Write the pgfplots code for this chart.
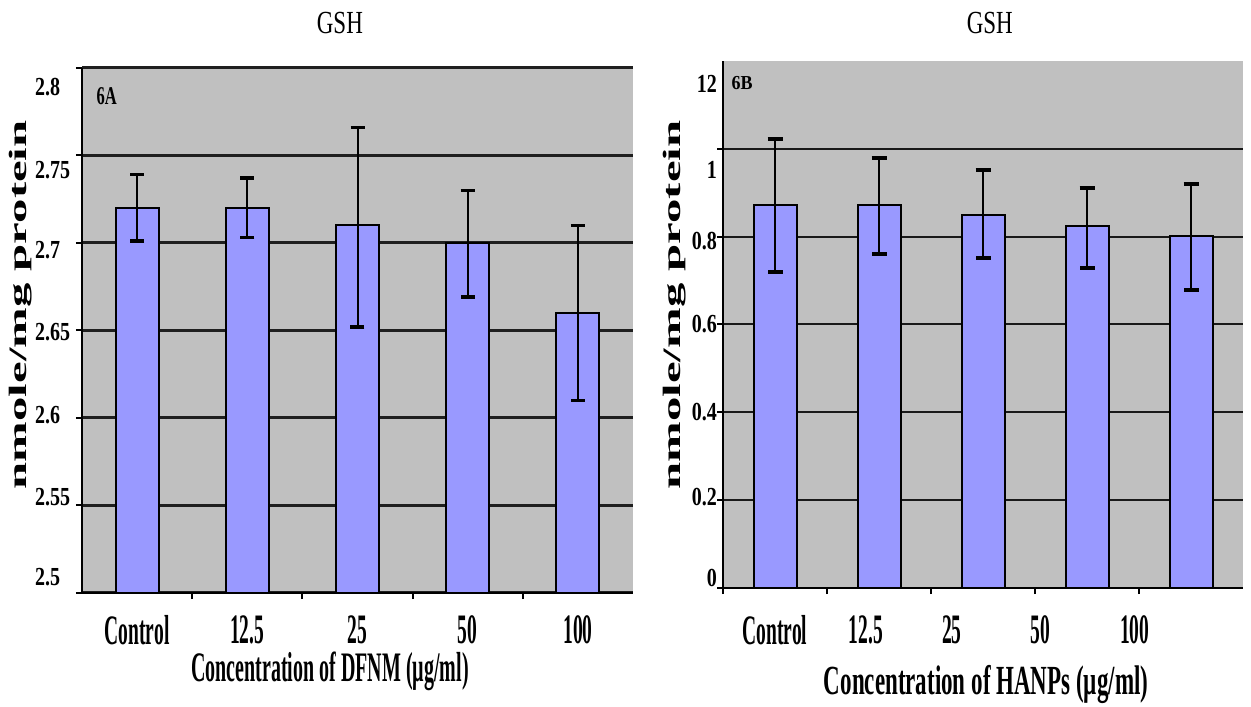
\documentclass[border=0pt]{standalone}
\usepackage{fontspec}
\setmainfont{Liberation Serif}
\usepackage{graphicx}
\usepackage{pgfplots}
\pgfplotsset{compat=1.18}
\definecolor{bggray}{HTML}{C0C0C0}
\definecolor{barblue}{HTML}{9999FF}
\newcommand{\xt}[1]{\scalebox{1}[2.15]{\fontsize{19.5}{20}\selectfont\bfseries #1}}
\newcommand{\yt}[1]{\scalebox{1}[1.3]{\fontsize{20}{22}\selectfont\bfseries #1}}
\newcommand{\ttl}{\scalebox{1}[1.4]{\fontsize{23}{24}\selectfont GSH}}
\newcommand{\ylab}{\scalebox{1.95}[1]{\fontsize{25}{27}\selectfont\bfseries nmole/mg protein}}
\pgfplotsset{
  common/.style={
    scale only axis,
    axis background/.style={fill=bggray},
    axis x line*=bottom, axis y line*=left,
    axis line style={line width=2pt, black, -},
    major tick length=0pt, minor tick length=6pt, tick align=outside,
    minor tick style={line width=2pt, black},
    yminorgrids,
    xticklabel style={anchor=center, inner sep=0pt},
    yticklabel style={inner sep=0pt},
    title style={anchor=center, inner sep=0pt},
    xlabel style={anchor=center, inner sep=0pt},
    ylabel style={anchor=center, inner sep=0pt, rotate=0},
  }
}
\begin{document}
\begin{tikzpicture}
\useasboundingbox (0,0) rectangle (1251pt,707pt);
% ---------------- Panel 6A ----------------
\begin{axis}[common,
  at={(82pt,114pt)}, anchor=south west,
  width=551pt, height=525pt,
  xmin=-0.5, xmax=4.5, ymin=2.5, ymax=2.8,
  xtick={0,1,2,3,4},
  xticklabels={\xt{Control},\xt{12.5},\xt{25},\xt{50},\xt{100}},
  minor xtick={0.5,1.5,2.5,3.5},
  ytick={2.509,2.5549,2.6017,2.649,2.696,2.7417,2.789},
  yticklabels={\yt{2.5},\yt{2.55},\yt{2.6},\yt{2.65},\yt{2.7},\yt{2.75},\yt{2.8}},
  minor ytick={2.5,2.55,2.6,2.65,2.7,2.75,2.8},
  minor grid style={line width=3pt, color=black!88},
  xticklabel style={yshift=-37pt},
  yticklabel style={anchor=west, xshift=-47pt},
  title={\ttl},
  title style={at={(axis description cs:0.468,1.074)}},
  xlabel={\scalebox{1}[2.1]{\fontsize{20}{22}\selectfont\bfseries Concentration of DFNM (µg/ml)}},
  xlabel style={at={(axis description cs:0.45,-0.150)}},
  ylabel={\ylab},
  ylabel style={at={(axis description cs:-0.112,0.549)}},
]
\addplot[ybar, bar width=43pt, bar shift=0pt, fill=barblue, draw=black, line width=2pt,
  error bars/.cd, y dir=both, y explicit,
  error bar style={line width=2pt, black},
  error mark options={rotate=90, mark size=7pt, line width=3.5pt, black}]
coordinates {
  (0,2.72) += (0,0.019) -= (0,0.019)
  (1,2.72) += (0,0.017) -= (0,0.017)
  (2,2.71) += (0,0.056) -= (0,0.058)
  (3,2.70) += (0,0.030) -= (0,0.031)
  (4,2.66) += (0,0.050) -= (0,0.050)
};
\node[inner sep=0pt] at (axis description cs:0.045,0.947)
  {\scalebox{1}[1.55]{\fontsize{16.5}{18}\selectfont\bfseries 6A}};
\end{axis}
% ---------------- Panel 6B ----------------
\begin{axis}[common,
  at={(723pt,119pt)}, anchor=south west,
  width=520pt, height=527pt,
  xmin=-0.5, xmax=4.5, ymin=0, ymax=1.2,
  xtick={0,0.875,1.70,2.55,3.46},
  xticklabels={\xt{Control},\xt{12.5},\xt{25},\xt{50},\xt{100}},
  minor xtick={-0.5,0.5,1.5,2.5,3.5},
  ytick={0.023,0.207,0.40,0.6,0.79,0.952,1.148},
  yticklabels={\yt{0},\yt{0.2},\yt{0.4},\yt{0.6},\yt{0.8},\yt{1},\yt{12}},
  minor ytick={0,0.2,0.4,0.6,0.8,1.0},
  minor grid style={line width=2pt, color=black!90},
  xticklabel style={yshift=-42pt},
  yticklabel style={anchor=east, xshift=-6pt},
  title={\ttl},
  title style={at={(axis description cs:0.513,1.061)}},
  xlabel={\scalebox{1}[1.8]{\fontsize{23}{24}\selectfont\bfseries Concentration of HANPs (µg/ml)}},
  xlabel style={at={(axis description cs:0.506,-0.184)}},
  ylabel={\ylab},
  ylabel style={at={(axis description cs:-0.094,0.537)}},
]
\addplot[ybar, bar width=43pt, bar shift=0pt, fill=barblue, draw=black, line width=2pt,
  error bars/.cd, y dir=both, y explicit,
  error bar style={line width=2pt, black},
  error mark options={rotate=90, mark size=7.5pt, line width=4pt, black}]
coordinates {
  (0,0.872) += (0,0.151) -= (0,0.152)
  (1,0.872) += (0,0.108) -= (0,0.112)
  (2,0.850) += (0,0.102) -= (0,0.098)
  (3,0.825) += (0,0.086) -= (0,0.096)
  (4,0.802) += (0,0.118) -= (0,0.123)
};
\node[inner sep=0pt] at (axis description cs:0.037,0.958)
  {\scalebox{1}[1.1]{\fontsize{18}{20}\selectfont\bfseries 6B}};
\end{axis}
\end{tikzpicture}
\end{document}
